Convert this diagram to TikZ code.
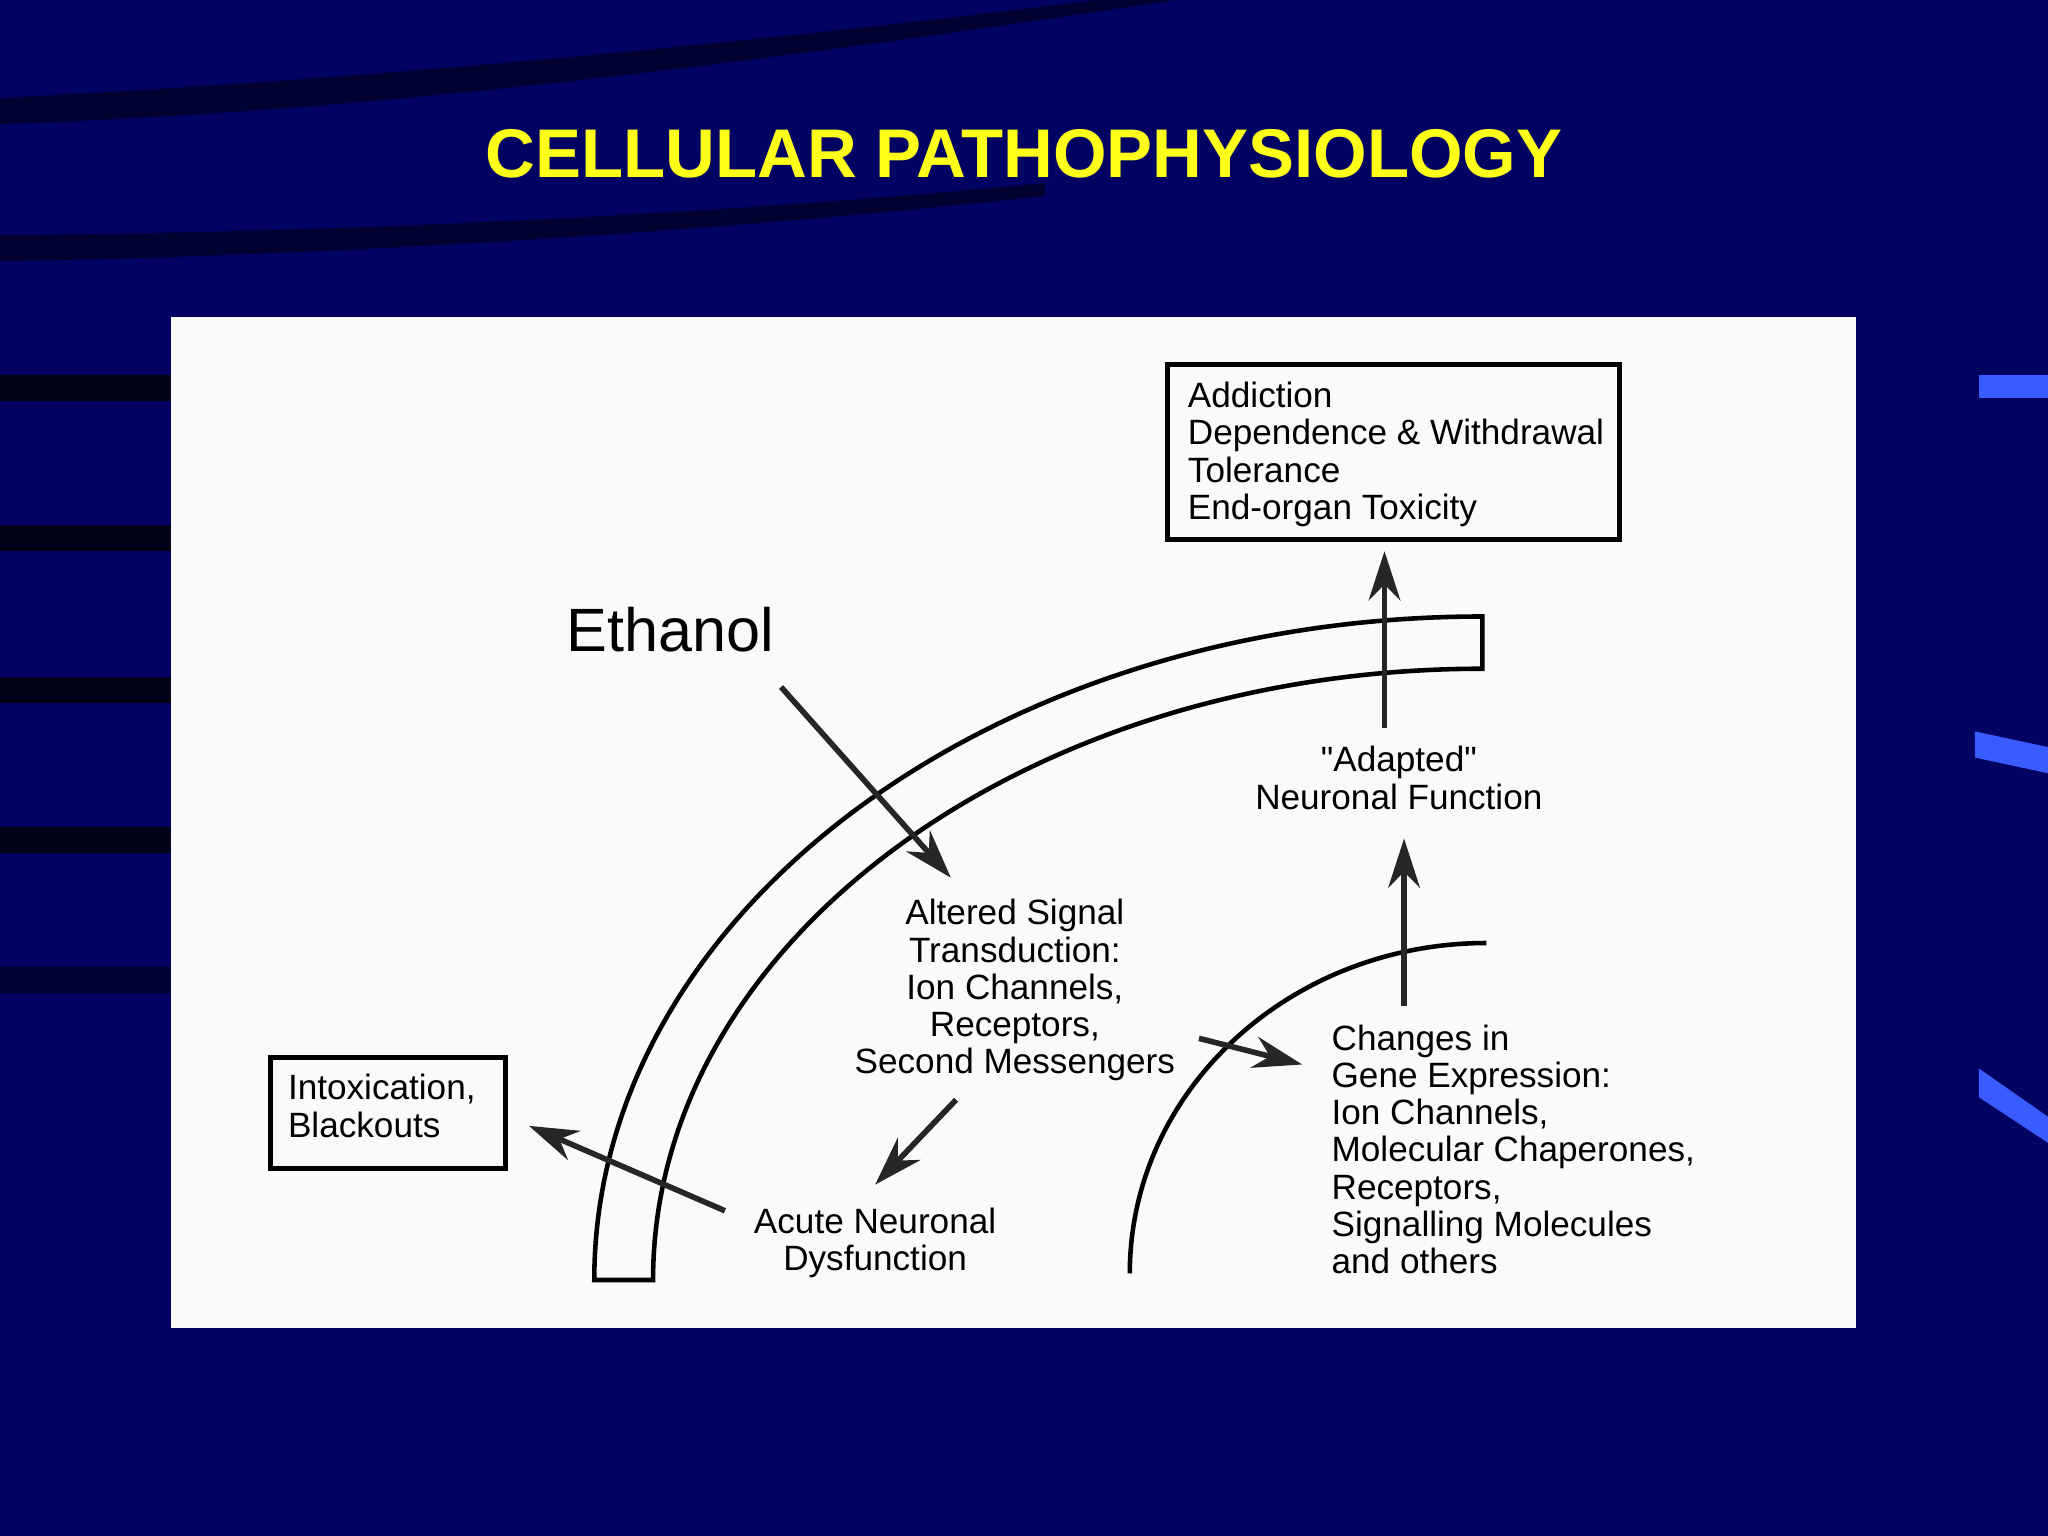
\documentclass[tikz,border=0pt]{standalone}
\usepackage{fontspec}
\usetikzlibrary{arrows.meta}
\setmainfont{Liberation Sans}
\newfontfamily\rawq{Liberation Sans}
\begin{document}
\begin{tikzpicture}[x=0.01306cm,y=-0.01306cm,
  lbl/.style={font=\fontsize{10}{10.6}\selectfont,align=left,inner sep=0},
  lblc/.style={lbl,align=center},
  arr/.style={-{Stealth[length=14pt,width=9pt]},line width=1.6pt,black!85},
  bx/.style={draw,line width=1.3pt,inner sep=0}]
\definecolor{navy}{HTML}{020262}
\definecolor{ttl}{HTML}{FFFF1A}
\definecolor{sidemark}{HTML}{3A5CFF}
\fill[navy] (0,0) rectangle (1568,1176);
\useasboundingbox (0,0) rectangle (1568,1176);
% background stripes
\fill[black!70!navy,opacity=0.7] (0,75) .. controls (300,60) and (600,30) .. (840,0) -- (900,0) .. controls (600,45) and (300,85) .. (0,95) -- cycle;
\fill[black!70!navy,opacity=0.7] (0,180) .. controls (300,178) and (600,160) .. (800,140) -- (800,150) .. controls (600,172) and (300,195) .. (0,200) -- cycle;
\foreach \y in {287,402,518,633}{\fill[black!75!navy] (0,\y) rectangle (131,\y+20);}
\fill[black!50!navy] (0,740) rectangle (131,760);
\fill[sidemark] (1515,287) rectangle (1568,305);
\fill[sidemark] (1512,560) -- (1568,572) -- (1568,592) -- (1512,580) -- cycle;
\fill[sidemark] (1515,818) -- (1568,855) -- (1568,875) -- (1515,840) -- cycle;
% title
\node[text=ttl,font=\bfseries\fontsize{19.6}{22}\selectfont] (title) at (784,118) {CELLULAR PATHOPHYSIOLOGY};
% panel
\fill[white!96!gray] (131,243) rectangle (1421,1017);
% outer band
\draw[line width=1.3pt] (455,980) arc[start angle=180,end angle=270,x radius=680,y radius=508] -- (1135,512) arc[start angle=270,end angle=180,x radius=635,y radius=468] -- cycle;
% inner arc
\draw[line width=1.3pt] (865,975) arc[start angle=180,end angle=270,x radius=273,y radius=253];
% boxes
\node[bx,minimum width=346*0.01306cm,minimum height=134*0.01306cm] (top) at (1067,346) {};
\node[lbl,anchor=north west] (toptxt) at (909,292) {Addiction\\Dependence \& Withdrawal\\Tolerance\\End-organ Toxicity};
\node[bx,minimum width=180*0.01306cm,minimum height=85*0.01306cm] (left) at (297,852) {};
\node[lbl,anchor=north west] (lefttxt) at (220,822) {Intoxication,\\Blackouts};
% texts
\node[font=\fontsize{17.4}{19}\selectfont] (eth) at (513,482) {Ethanol};
\node[lblc,anchor=north] (alt) at (777,688) {Altered Signal\\Transduction:\\Ion Channels,\\Receptors,\\Second Messengers};
\node[lblc,anchor=north] (acute) at (670,924) {Acute Neuronal\\Dysfunction};
\node[lblc,anchor=north] (adapt) at (1071,571) {{\rawq"}Adapted{\rawq"}\\Neuronal Function};
\node[lbl,anchor=north west] (gene) at (1019,784) {Changes in\\Gene Expression:\\Ion Channels,\\Molecular Chaperones,\\Receptors,\\Signalling Molecules\\and others};
% arrows
\coordinate (e1) at (598,526); \coordinate (e2) at (728,672);
\draw[arr] (e1) -- (e2);
\coordinate (a1) at (1060,557); \coordinate (a2) at (1060,422);
\draw[arr] (a1) -- (a2);
\coordinate (g1) at (1075,770); \coordinate (g2) at (1075,642);
\draw[arr] (g1) -- (g2);
\coordinate (s1) at (918,795); \coordinate (s2) at (997,815);
\draw[arr] (s1) -- (s2);
\coordinate (d1) at (732,842); \coordinate (d2) at (670,907);
\draw[arr] (d1) -- (d2);
\coordinate (b1) at (555,927); \coordinate (b2) at (405,862);
\draw[arr] (b1) -- (b2);
\end{tikzpicture}
\end{document}
